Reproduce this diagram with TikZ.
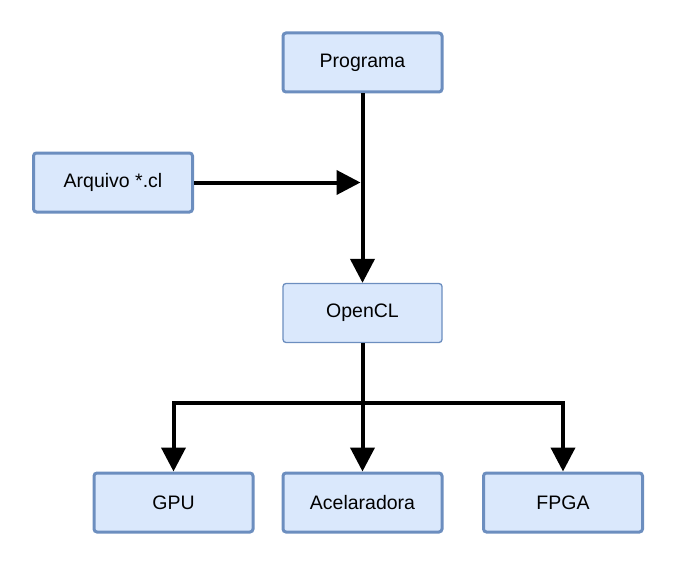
\documentclass[tikz,border=0pt]{standalone}
\usepackage{fontspec}
\setmainfont{Liberation Sans}
\usetikzlibrary{arrows.meta}
\definecolor{boxfill}{HTML}{DAE8FC}
\definecolor{boxline}{HTML}{6C8EBF}
\tikzset{
  blk/.style={draw=boxline, fill=boxfill, line width=3pt, rounded corners=3pt,
    minimum width=159pt, minimum height=59pt, inner sep=0pt,
    font=\fontsize{19.5pt}{22pt}\selectfont, text=black},
  thinblk/.style={blk, line width=1.3pt},
  conn/.style={line width=4pt, -{Triangle[length=24pt,width=24pt]}},
  seg/.style={line width=4pt}
}
\begin{document}
\begin{tikzpicture}[x=1pt,y=-1pt]
\useasboundingbox (0,0) rectangle (677,567);
\node[blk] (prog) at (362.5,62.5) {Programa};
\node[blk] (arq) at (113,182.5) {Arquivo *.cl};
\node[thinblk] (ocl) at (362.5,313) {OpenCL};
\node[blk] (gpu) at (173.5,502.5) {GPU};
\node[blk] (acel) at (362.5,502.5) {Acelaradora};
\node[blk] (fpga) at (563,502.5) {FPGA};
\coordinate (j) at (360.5,182.5);
\coordinate (b) at (362.5,403);
\draw[conn] (prog) -- (ocl);
\draw[conn] (arq) -- (j);
\draw[conn] (ocl) -- (acel);
\draw[conn] (b) -| (gpu);
\draw[conn] (b) -| (fpga);
\end{tikzpicture}
\end{document}
